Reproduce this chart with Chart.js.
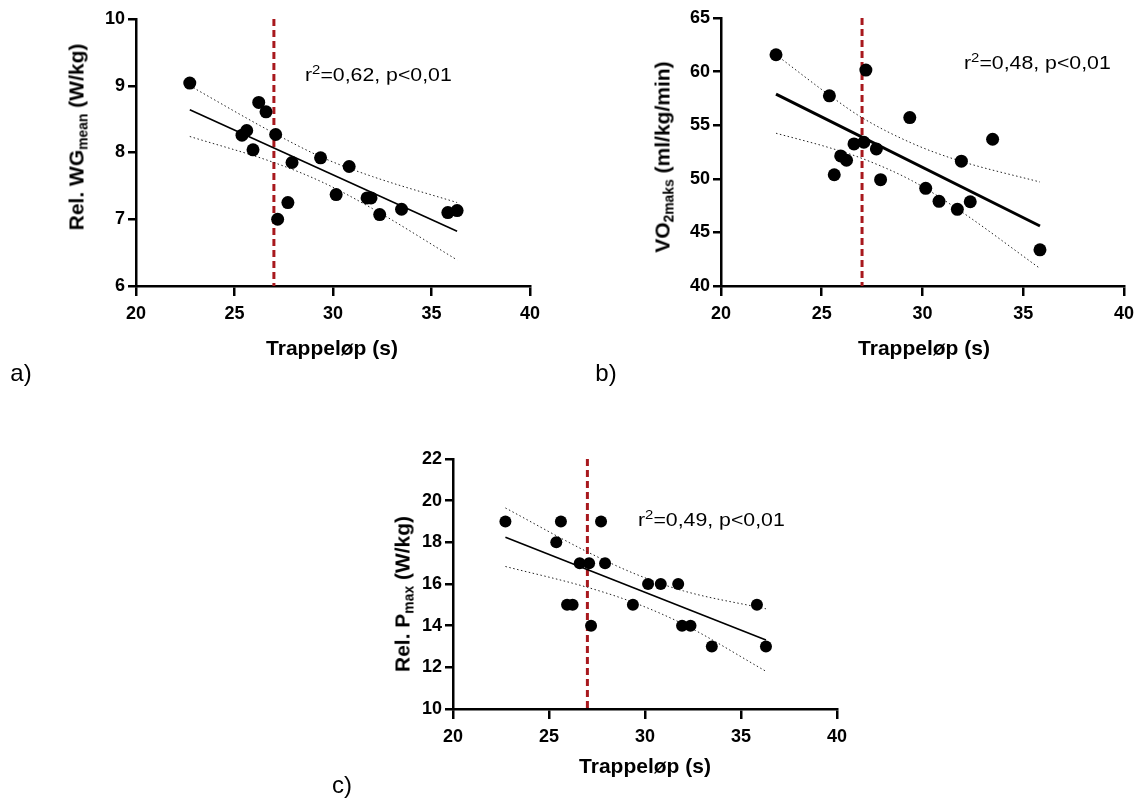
<!DOCTYPE html>
<html>
<head>
<meta charset="utf-8">
<script src="https://cdn.jsdelivr.net/npm/chart.js@4.4.1/dist/chart.umd.min.js"></script>
<style>
  body { margin: 0; background: #fff; }
  #wrap { position: relative; width: 1141px; height: 801px; overflow: hidden;
          font-family: "Liberation Sans", Arial, sans-serif; color: #000; }
  canvas { position: absolute; }
  .t { position: absolute; white-space: nowrap; line-height: 1; }
  .xt { font-weight: bold; font-size: 21px; transform: translate(-50%, -50%); }
  .yt { font-weight: bold; font-size: 21px; transform: translate(-50%, -50%) rotate(-90deg); }
  .note { font-size: 19px; transform-origin: 0 50%; transform: translateY(-50%) scaleX(1.12); }
  .lab { font-size: 24px; transform: translate(-50%, -50%); }
  .sub { font-size: 0.66em; position: relative; top: 0.3em; }
  .sup { font-size: 0.7em; position: relative; top: -0.5em; }
</style>
</head>
<body>
<div id="wrap">
  <canvas id="chartA" width="560" height="360" style="left:0;top:0"></canvas>
  <canvas id="chartB" width="561" height="360" style="left:580px;top:0"></canvas>
  <canvas id="chartC" width="530" height="381" style="left:330px;top:420px"></canvas>

  <div class="t yt" style="left:76px;top:137px">Rel. WG<span class="sub">mean</span> (W/kg)</div>
  <div class="t yt" style="left:662px;top:157px">VO<span class="sub">2maks</span> (ml/kg/min)</div>
  <div class="t yt" style="left:402px;top:594px">Rel. P<span class="sub">max</span> (W/kg)</div>

  <div class="t xt" style="left:332px;top:347px">Trappeløp (s)</div>
  <div class="t xt" style="left:924px;top:347px">Trappeløp (s)</div>
  <div class="t xt" style="left:645px;top:765px">Trappeløp (s)</div>

  <div class="t note" style="left:305px;top:74px">r<span class="sup">2</span>=0,62, p&lt;0,01</div>
  <div class="t note" style="left:964px;top:62px">r<span class="sup">2</span>=0,48, p&lt;0,01</div>
  <div class="t note" style="left:638px;top:519px">r<span class="sup">2</span>=0,49, p&lt;0,01</div>

  <div class="t lab" style="left:21px;top:373px">a)</div>
  <div class="t lab" style="left:606px;top:373px">b)</div>
  <div class="t lab" style="left:342px;top:785px">c)</div>
</div>
<script>
// stair run time (s) for each subject, shared by all three panels
const trappelop = [22.73, 25.38, 25.62, 25.94, 26.23, 26.6, 27.09, 27.19, 27.71, 27.92,
                   29.37, 30.16, 30.82, 31.73, 31.93, 32.37, 33.48, 35.83, 36.3];
const relWG   = [9.04, 8.26, 8.33, 8.04, 8.75, 8.61, 8.27, 7.0, 7.25, 7.85,
                 7.92, 7.37, 7.79, 7.32, 7.32, 7.07, 7.15, 7.10, 7.13];
const vo2maks = [61.57, 57.74, 50.38, 52.13, 51.73, 53.25, 53.41, 60.14, 52.79, 49.92,
                 55.71, 49.11, 47.9, 47.15, 51.64, 47.86, 53.69, 43.37, null];
const relPmax = [19, 18, 19, 15, 15, 17, 17, 14, 19, 17,
                 15, 16, 16, 16, 14, 14, 13, 15, 13];

const terskel = 27;   // red dashed line
const xTicks = [20, 40, 5];

// regression lines (end points) and 95% bands
const fitXA = [22.73, 36.3], fitA = [8.64, 6.82];
const bandXA = [22.73, 27, 29.5, 32, 36.3];
const upperA = [9.0, 8.29, 7.92, 7.64, 7.25];
const lowerA = [8.24, 7.85, 7.55, 7.16, 6.39];

const fitXB = [22.73, 35.83], fitB = [57.9, 45.6];
const bandXB = [22.73, 25.38, 27, 29.5, 31.8, 35.83];
const upperB = [61.57, 57.8, 55.7, 53.3, 51.7, 49.7];
const lowerB = [54.25, 52.9, 51.9, 49.8, 47.1, 41.64];

const fitXC = [22.73, 36.3], fitC = [18.24, 13.31];
const bandXC = [22.73, 27, 29.5, 32, 36.3];
const upperC = [19.65, 17.54, 16.48, 15.67, 14.81];
const lowerC = [16.84, 15.84, 15.08, 14.07, 11.81];

const pts = (xs, ys) => xs.map((x, i) => ({ x: x, y: ys[i] })).filter(p => p.y !== null);

const tickFont = { family: '"Liberation Sans", Arial, sans-serif', size: 18, weight: 'bold' };

function axis(min, max, step, tickLen, pad) {
    return {
        type: 'linear', min: min, max: max,
        ticks: { stepSize: step, color: '#000', font: tickFont, padding: pad },
        grid: { drawOnChartArea: false, drawTicks: true, tickLength: tickLen, color: '#000', lineWidth: 2.5 },
        border: { display: true, color: '#000', width: 2.5 }
    };
}

function panel(id, o) {
    const x = axis(xTicks[0], xTicks[1], xTicks[2], 10, 7);
    x.afterFit = s => { s.height = o.xHeight; };
    const y = axis(o.yMin, o.yMax, o.yStep, 8, 3);
    y.afterFit = s => { s.width = o.yWidth; };

    new Chart(document.getElementById(id), {
        type: 'scatter',
        data: {
            datasets: [
                { data: pts(trappelop, o.values), backgroundColor: '#000', borderWidth: 0,
                  pointRadius: o.radius, showLine: false, order: 0 },
                { data: pts(o.fitX, o.fit), showLine: true, borderColor: '#000',
                  borderWidth: o.fitWidth, pointRadius: 0, order: 1 },
                { data: pts(o.bandX, o.upper), showLine: true, borderColor: '#222', borderWidth: 1,
                  borderDash: [1.5, 2.5], cubicInterpolationMode: 'monotone', pointRadius: 0, order: 2 },
                { data: pts(o.bandX, o.lower), showLine: true, borderColor: '#222', borderWidth: 1,
                  borderDash: [1.5, 2.5], cubicInterpolationMode: 'monotone', pointRadius: 0, order: 2 },
                { data: [{ x: terskel, y: o.yMax }, { x: terskel, y: o.yMin }], showLine: true,
                  borderColor: '#a8181d', borderWidth: 3, borderDash: [7, 4], pointRadius: 0, order: 3 }
            ]
        },
        options: {
            responsive: false,
            animation: false,
            events: [],
            layout: { padding: o.pad },
            plugins: { legend: { display: false }, tooltip: { enabled: false } },
            scales: { x: x, y: y }
        }
    });
}

panel('chartA', {
    values: relWG, yMin: 6, yMax: 10, yStep: 1, radius: 6.5,
    fitX: fitXA, fit: fitA, fitWidth: 1.6, bandX: bandXA, upper: upperA, lower: lowerA,
    yWidth: 136, xHeight: 74, pad: { left: 0, right: 30, top: 19, bottom: 0 }
});
panel('chartB', {
    values: vo2maks, yMin: 40, yMax: 65, yStep: 5, radius: 6.5,
    fitX: fitXB, fit: fitB, fitWidth: 3, bandX: bandXB, upper: upperB, lower: lowerB,
    yWidth: 141, xHeight: 74, pad: { left: 0, right: 14, top: 18, bottom: 0 }
});
panel('chartC', {
    values: relPmax, yMin: 10, yMax: 22, yStep: 2, radius: 6,
    fitX: fitXC, fit: fitC, fitWidth: 1.6, bandX: bandXC, upper: upperC, lower: lowerC,
    yWidth: 123, xHeight: 92, pad: { left: 0, right: 23, top: 39, bottom: 0 }
});
</script>
</body>
</html>
